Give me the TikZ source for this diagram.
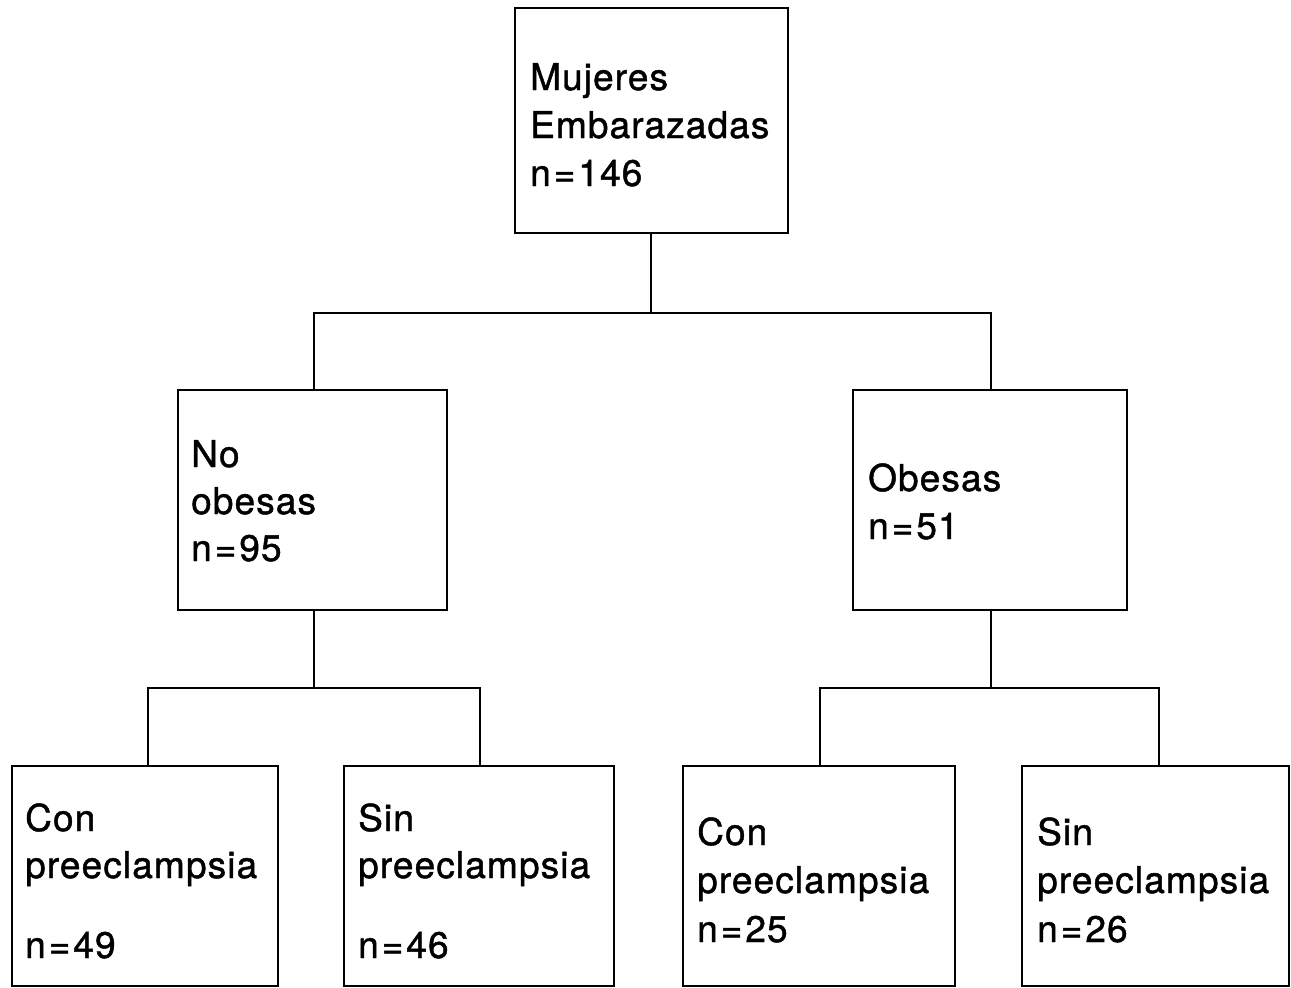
\documentclass[tikz,border=0pt]{standalone}
\usepackage{fontspec}
\setmainfont{TeX Gyre Heros}[LetterSpace=3,FakeBold=1.2]
\newcommand{\myeq}{\kern3pt=\kern3pt}
\begin{document}
\begin{tikzpicture}[x=1pt,y=-1pt,
  box/.style={draw=black,line width=2pt,rectangle},
  lbl/.style={anchor=base west,inner sep=0pt,font=\fontsize{37}{48}\selectfont},
  conn/.style={draw=black,line width=2pt}]
\useasboundingbox[fill=white] (0,0) rectangle (1291,988);
% boxes
\path[box] (515,8) rectangle (788,233);
\path[box] (178,390) rectangle (447,610);
\path[box] (853,390) rectangle (1127,610);
\path[box] (12,766) rectangle (278,986);
\path[box] (344,766) rectangle (614,986);
\path[box] (683,766) rectangle (955,986);
\path[box] (1022,766) rectangle (1289,986);
\coordinate (top) at (651,233);
\coordinate (noob) at (314,390);
\coordinate (ob) at (991,390);
\coordinate (noobB) at (314,610);
\coordinate (obB) at (991,610);
\coordinate (b1) at (148,766);
\coordinate (b2) at (480,766);
\coordinate (b3) at (820,766);
\coordinate (b4) at (1159,766);
% connectors
\draw[conn] (top) -- (651,313);
\draw[conn] (noob) |- (651,313) -| (ob);
\draw[conn] (noobB) -- (314,688);
\draw[conn] (b1) |- (314,688) -| (b2);
\draw[conn] (obB) -- (991,688);
\draw[conn] (b3) |- (991,688) -| (b4);
% texts
\node[lbl] (t1) at (530,90) {Mujeres};
\node[lbl] (t2) at (530,138) {Embarazadas};
\node[lbl] (t3) at (530,186) {n\myeq146};
\node[lbl] (t4) at (191,467) {No};
\node[lbl] (t5) at (191,514) {obesas};
\node[lbl] (t6) at (191,561) {n\myeq95};
\node[lbl] (t7) at (868,491) {Obesas};
\node[lbl] (t8) at (868,539) {n\myeq51};
\node[lbl] (t9) at (25,831) {Con};
\node[lbl] (t10) at (25,878) {preeclampsia};
\node[lbl] (t11) at (25,958) {n\myeq49};
\node[lbl] (t12) at (358,831) {Sin};
\node[lbl] (t13) at (358,878) {preeclampsia};
\node[lbl] (t14) at (358,958) {n\myeq46};
\node[lbl] (t15) at (697,845) {Con};
\node[lbl] (t16) at (697,893) {preeclampsia};
\node[lbl] (t17) at (697,942) {n\myeq25};
\node[lbl] (t18) at (1037,845) {Sin};
\node[lbl] (t19) at (1037,893) {preeclampsia};
\node[lbl] (t20) at (1037,942) {n\myeq26};
\end{tikzpicture}
\end{document}
